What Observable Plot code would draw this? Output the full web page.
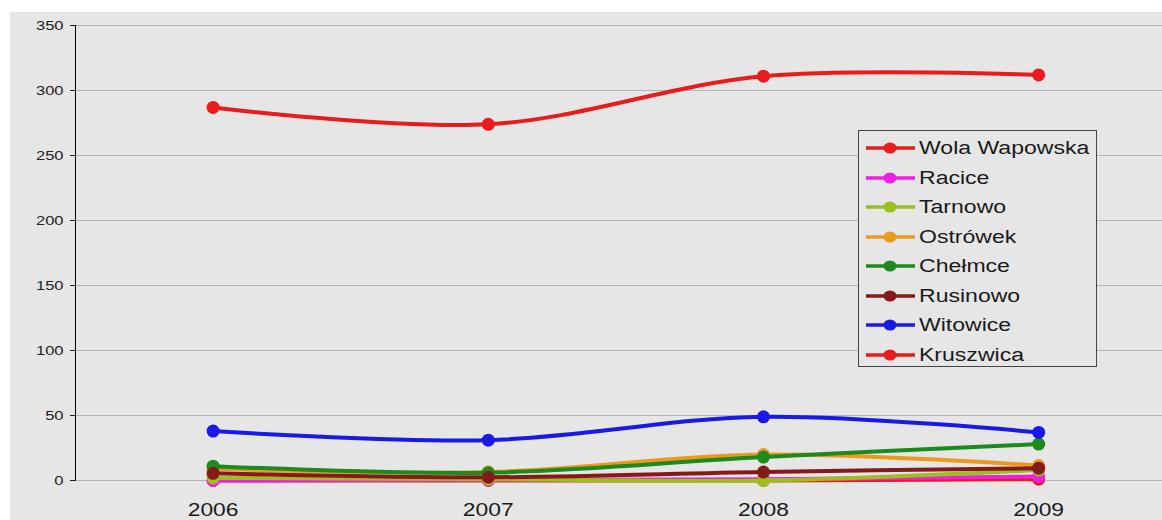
<!DOCTYPE html>
<html><head><meta charset="utf-8">
<script src="https://cdn.jsdelivr.net/npm/d3@7"></script>
<script src="https://cdn.jsdelivr.net/npm/@observablehq/plot@0.6"></script>
<style>
body{margin:0;background:#fff;font-family:"Liberation Sans",Arial,sans-serif;}
#wrap{position:relative;width:1162px;height:520px;overflow:hidden;background:#fff;}
#chart{position:absolute;left:10px;top:12px;}
#legend{position:absolute;left:858px;top:130px;width:239px;height:237px;border:1px solid #444;background:#e6e6e6;box-sizing:border-box;}
.row{position:absolute;left:0;height:24px;}
.row svg{position:absolute;left:6px;top:0;}
.row span{position:absolute;left:60px;top:0;line-height:24px;font-size:18px;color:#1a1a1a;white-space:nowrap;transform:scaleX(1.28);transform-origin:0 50%;}
</style>
</head><body>
<div id="wrap"><div id="chart"></div><div id="legend"></div></div>
<script>
const years = [2006, 2007, 2008, 2009];
const yTicks = [0, 50, 100, 150, 200, 250, 300, 350];
const seriesNames = ["Wola Wapowska", "Racice", "Tarnowo", "Ostrówek", "Chełmce", "Rusinowo", "Witowice", "Kruszwica"];
const seriesColors = ["#e81c1c", "#ee1ee2", "#9bbf1c", "#eb9a1e", "#1c8a1c", "#861a1a", "#1a1ae8", "#e81c1c"];
const wolaWapowska = [287, 274, 311, 312];
const racice = [0, 0.5, 1, 3];
const tarnowo = [2, 1, 0, 8];
const ostrowek = [9, 6.5, 20, 11.5];
const chelmce = [11, 6, 18, 28];
const rusinowo = [5.5, 2.5, 6.5, 9.5];
const witowice = [38, 31, 49, 37];
const kruszwica = [0, 0, 0, 1];
const seriesValues = [wolaWapowska, racice, tarnowo, ostrowek, chelmce, rusinowo, witowice, kruszwica];

const series = seriesNames.map((name, i) => ({
  name, color: seriesColors[i],
  data: years.map((year, j) => ({year, value: seriesValues[i][j], name}))
}));
// Kruszwica is drawn underneath the others
const drawOrder = [series[7], ...series.slice(0, 7)];

const marks = [
  Plot.gridY({ticks: yTicks, stroke: "#b4b4b4", strokeOpacity: 1}),
  Plot.frame({anchor: "left", stroke: "#000"}),
  Plot.axisY({ticks: yTicks, tickSize: 5, tickPadding: 7, fontSize: 13, label: null, color: "#222"}),
  Plot.axisX({ticks: years, tickFormat: "d", tickSize: 0, tickPadding: 23, fontSize: 18, label: null, color: "#1a1a1a"})
];
for (const s of drawOrder) {
  marks.push(Plot.line(s.data, {x: "year", y: "value", stroke: s.color, strokeWidth: 4, curve: "catmull-rom"}));
  marks.push(Plot.dot(s.data, {x: "year", y: "value", fill: s.color, r: 6.5}));
}

const chart = Plot.plot({
  width: 1152, height: 508,
  marginLeft: 65, marginRight: 0, marginTop: 13, marginBottom: 40,
  style: {background: "#e6e6e6", fontFamily: "'Liberation Sans', Arial, sans-serif", overflow: "visible"},
  x: {type: "linear", domain: [2005.5, 2009.45]},
  y: {domain: [0, 350]},
  marks
});
// horizontally stretch tick labels like the reference
chart.querySelectorAll("text").forEach(t => {
  let tr = t.getAttribute("transform");
  if (!tr) {
    const x = t.getAttribute("x") || 0, y = t.getAttribute("y") || 0;
    t.removeAttribute("x"); t.removeAttribute("y");
    tr = `translate(${x},${y})`;
  }
  t.setAttribute("transform", tr + " scale(1.27,1)");
});
document.getElementById("chart").appendChild(chart);

const legend = document.getElementById("legend");
series.forEach((s, i) => {
  const row = document.createElement("div");
  row.className = "row";
  row.style.top = (5 + i * 29.5) + "px";
  row.style.width = "230px";
  row.innerHTML = `<svg width="52" height="24"><line x1="1" x2="50" y1="12" y2="12" stroke="${s.color}" stroke-width="3.5"/><ellipse cx="25" cy="12" rx="6.5" ry="5.5" fill="${s.color}"/></svg><span>${s.name}</span>`;
  legend.appendChild(row);
});
</script>
</body></html>
